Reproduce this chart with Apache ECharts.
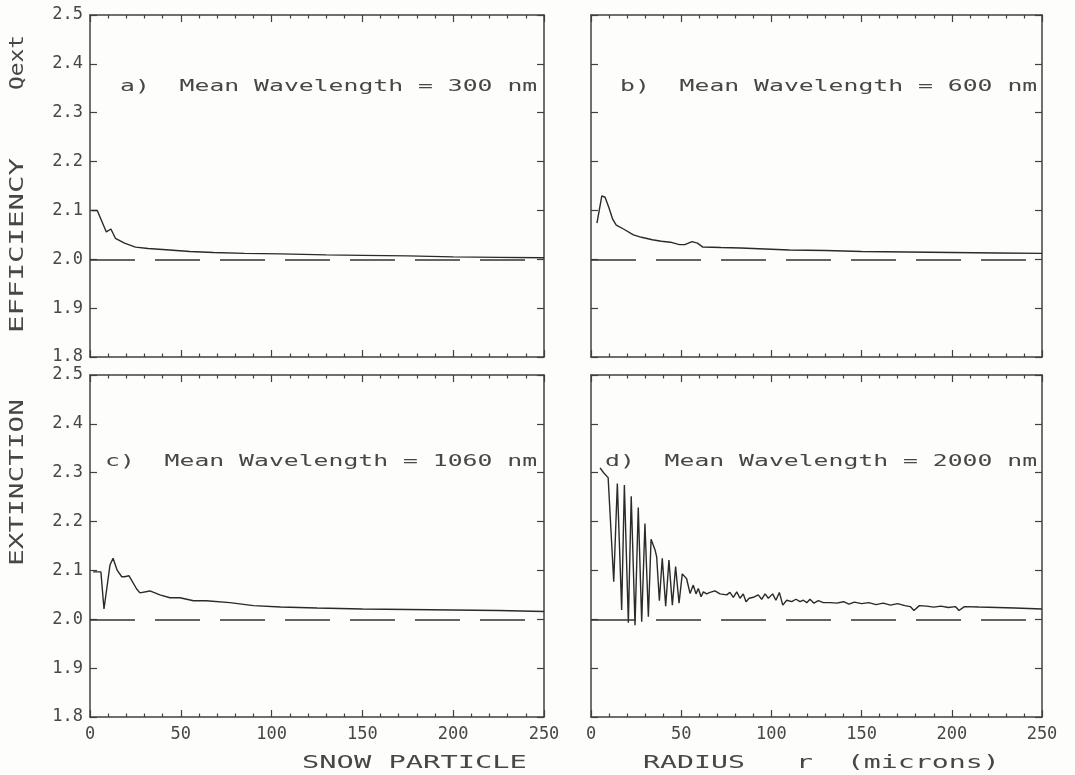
<!DOCTYPE html>
<html><head><meta charset="utf-8">
<script src="https://cdn.jsdelivr.net/npm/echarts@6/dist/echarts.min.js"></script>
<style>html,body{margin:0;padding:0;background:#fdfdfb}#c{width:1075px;height:775px}</style>
</head><body><div id="c"></div>
<script>
// ---- data (radius in microns, Qext) ----
const panelLabels = ['a)  Mean Wavelength = 300 nm', 'b)  Mean Wavelength = 600 nm',
                     'c)  Mean Wavelength = 1060 nm', 'd)  Mean Wavelength = 2000 nm'];
const xRange = [0, 250, 50];      // min, max, interval
const yRange = [1.8, 2.5, 0.1];
const geometricLimit = 2.0;

const seriesA = [[0.8,2.100],[4,2.100],[9,2.056],[11.5,2.062],[14,2.043],[19,2.033],[25,2.025],[32,2.022],[40,2.020],[55,2.016],[68,2.014],[85,2.012],[105,2.011],[130,2.009],[150,2.008],[175,2.007],[200,2.005],[225,2.004],[250,2.003]];
const seriesB = [[3.3,2.074],[6,2.130],[7.8,2.127],[10,2.105],[12,2.082],[14,2.070],[18,2.062],[23.5,2.050],[28,2.045],[34,2.040],[39,2.037],[44,2.035],[49,2.030],[52,2.030],[56,2.036],[59,2.033],[62,2.025],[72,2.024],[83,2.023],[110,2.019],[130,2.018],[150,2.016],[175,2.015],[200,2.014],[225,2.013],[250,2.012]];
const seriesC = [[1.7,2.097],[6,2.097],[7.7,2.021],[11,2.111],[12.7,2.125],[15,2.100],[17.5,2.087],[19,2.087],[21.5,2.089],[25.7,2.062],[27.5,2.054],[33,2.058],[38.5,2.050],[44,2.044],[49.5,2.044],[57,2.038],[64,2.038],[77,2.034],[90,2.028],[105,2.025],[125,2.023],[150,2.021],[175,2.020],[200,2.019],[225,2.018],[250,2.016]];
const seriesD = [[5,2.310],[7,2.300],[9.5,2.290],[12.6,2.077],[14.6,2.278],[17,2.019],[18.5,2.275],[20.7,1.993],[22.3,2.252],[24.4,1.988],[26.2,2.229],[28.1,1.995],[29.9,2.196],[31.8,2.005],[33.3,2.164],[35.5,2.142],[36.4,2.128],[37.9,2.038],[39.5,2.125],[41.4,2.027],[43.2,2.121],[45.1,2.029],[46.9,2.108],[48.8,2.033],[50.6,2.093],[53,2.083],[54.9,2.053],[56.7,2.070],[58.2,2.052],[59.5,2.063],[61,2.046],[62.3,2.056],[64.1,2.052],[66,2.055],[68.7,2.058],[71.5,2.052],[75.2,2.050],[77,2.055],[78.9,2.045],[80.8,2.056],[82.6,2.043],[84.4,2.052],[85.9,2.036],[87.7,2.043],[90,2.045],[92.7,2.050],[94.6,2.041],[96.5,2.052],[98.3,2.043],[100.7,2.052],[102.5,2.039],[104.4,2.055],[106.3,2.029],[108.5,2.039],[111.3,2.036],[113.6,2.041],[115.9,2.036],[117.7,2.039],[119.6,2.034],[121.4,2.041],[123.6,2.033],[126,2.038],[128.8,2.034],[132.5,2.034],[136.2,2.033],[140,2.036],[143,2.031],[146,2.035],[150,2.032],[154,2.034],[158,2.030],[162,2.033],[166,2.029],[170,2.032],[174,2.028],[177,2.026],[179,2.018],[182,2.028],[186,2.027],[190,2.025],[194,2.027],[198,2.024],[202,2.026],[204,2.018],[207,2.026],[215,2.025],[225,2.024],[235,2.023],[250,2.021]];
const allSeries = [seriesA, seriesB, seriesC, seriesD];

// ---- layout / style ----
const grids = [
  {left:90, top:15, width:454, height:342},
  {left:591, top:15, width:451, height:342},
  {left:90, top:375, width:454, height:342},
  {left:591, top:375, width:451, height:342}
];
const labelPos = [[120,87],[620,87],[105,462],[605,462]];
const FONT = 'DejaVu Sans Mono';
const INK = '#474747';
const axisLine = {show:true, onZero:false, lineStyle:{color:'#404040', width:1.5}};

const xAxes = [], yAxes = [], series = [];
grids.forEach((g, i) => {
  const showX = i >= 2, showY = i % 2 === 0;
  ['bottom','top'].forEach((pos, k) => {
    xAxes.push({
      type:'value', gridIndex:i, position:pos, min:xRange[0], max:xRange[1], interval:xRange[2],
      axisLine, splitLine:{show:false},
      axisTick:{show:true, inside:true, length:7, lineStyle:{color:'#404040', width:1.2}},
      minorTick:{show:true, splitNumber:5, length:3.5, lineStyle:{color:'#404040', width:1.2}},
      axisLabel:{show: showX && k === 0, fontFamily:FONT, fontSize:17, color:INK, margin:9}
    });
  });
  ['left','right'].forEach((pos, k) => {
    yAxes.push({
      type:'value', gridIndex:i, position:pos, min:yRange[0], max:yRange[1], interval:yRange[2],
      axisLine, splitLine:{show:false},
      axisTick:{show:true, inside:true, length:7, lineStyle:{color:'#404040', width:1.2}},
      axisLabel:{show: showY && k === 0, fontFamily:FONT, fontSize:17, color:INK, margin:7,
                 formatter: v => v.toFixed(1)}
    });
  });
  series.push({
    type:'line', xAxisIndex:2*i, yAxisIndex:2*i, data:allSeries[i],
    showSymbol:false, symbol:'none', smooth:false,
    lineStyle:{color:'#2a2a2a', width:1.4},
    markLine:{silent:true, symbol:['none','none'], label:{show:false},
      lineStyle:{type:[45,20], color:'#333', width:1.5},
      data:[{yAxis:geometricLimit}]}
  });
});

function txt(str, x, y, size, sx, rot) {
  return {type:'text', x, y, rotation: rot || 0, scaleX: sx, silent:true,
    style:{text:str, fontFamily:FONT, fontSize:size, fill:INK,
      align:'left', verticalAlign:'middle', textAlign:'left', textVerticalAlign:'middle'}};
}
const graphic = [];
panelLabels.forEach((t, i) => graphic.push(txt(t, labelPos[i][0], labelPos[i][1], 15, 1.65)));
graphic.push(txt('SNOW PARTICLE', 302, 764, 17, 1.69));
graphic.push(txt('RADIUS   r  (microns)', 643, 764, 17, 1.66));
graphic.push(txt('EXTINCTION', 18, 566, 19, 1.46, Math.PI/2));
graphic.push(txt('EFFICIENCY', 18, 333, 19, 1.53, Math.PI/2));
graphic.push(txt('Qext', 18, 90, 19, 1.2, Math.PI/2));

const chart = echarts.init(document.getElementById('c'), null, {renderer:'canvas'});
chart.setOption({
  backgroundColor:'#fdfdfb', animation:false,
  grid: grids, xAxis: xAxes, yAxis: yAxes, series, graphic
});
</script></body></html>
